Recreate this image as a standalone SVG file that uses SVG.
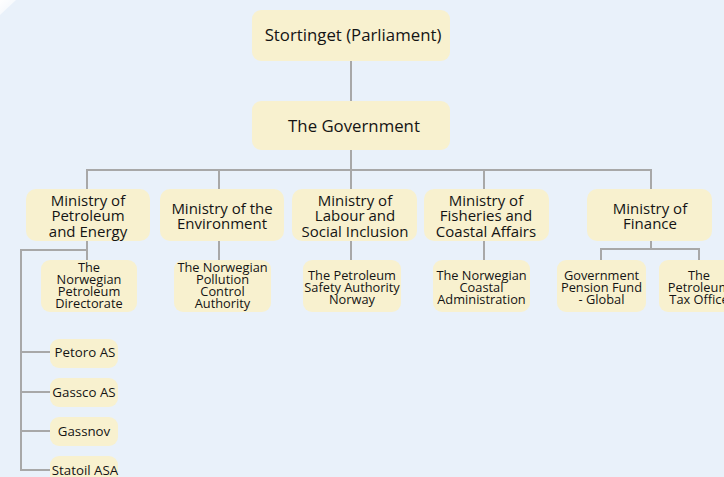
<svg xmlns="http://www.w3.org/2000/svg" width="724" height="477" viewBox="0 0 724 477">
  <defs>
    <linearGradient id="cornerGlow" x1="0" y1="0" x2="1" y2="1">
      <stop offset="0" stop-color="#ffffff" stop-opacity="1"/>
      <stop offset="1" stop-color="#ffffff" stop-opacity="0.3"/>
    </linearGradient>
    <style>
      .box { fill: #f8f1cf; }
      .link { fill: none; stroke: #a8a8a8; stroke-width: 2; }
      text { font-family: "Open Sans", "Noto Sans", "DejaVu Sans", sans-serif; fill: #141414; text-anchor: middle; }
      .top { font-size: 16.8px; }
      .min { font-size: 15px; }
      .sub { font-size: 12.8px; }
      .co { font-size: 13.3px; }
    </style>
  </defs>

  <!-- background -->
  <rect x="0" y="0" width="724" height="477" fill="#e9f1fa"/>
  <polygon points="0,0 16,0 0,15" fill="url(#cornerGlow)"/>

  <!-- connectors -->
  <g id="connectors">
    <path class="link" d="M351,61 V101"/>
    <path class="link" d="M351,150 V170"/>
    <path class="link" d="M87,189 V170 H651 V189"/>
    <path class="link" d="M219,170 V189"/>
    <path class="link" d="M351,170 V189"/>
    <path class="link" d="M484,170 V189"/>
    <path class="link" d="M87,241 V260"/>
    <path class="link" d="M87,250 H21 V470 H50"/>
    <path class="link" d="M21,352 H50"/>
    <path class="link" d="M21,392 H50"/>
    <path class="link" d="M21,431 H50"/>
    <path class="link" d="M219,241 V260"/>
    <path class="link" d="M351,241 V260"/>
    <path class="link" d="M484,241 V260"/>
    <path class="link" d="M651,241 V249"/>
    <path class="link" d="M601,260 V249 H699 V260"/>
  </g>

  <!-- top level -->
  <g id="stortinget">
    <rect class="box" x="252" y="10" width="198" height="51" rx="9"/>
    <text class="top" x="353" y="41">Stortinget (Parliament)</text>
  </g>
  <g id="government">
    <rect class="box" x="252" y="101" width="198" height="49" rx="9"/>
    <text class="top" x="354" y="132">The Government</text>
  </g>

  <!-- ministries -->
  <g id="ministry-petroleum">
    <rect class="box" x="26" y="189" width="124" height="52" rx="10"/>
    <text class="min" x="88" y="205.5">Ministry of</text>
    <text class="min" x="88" y="221">Petroleum</text>
    <text class="min" x="88" y="236.5">and Energy</text>
  </g>
  <g id="ministry-environment">
    <rect class="box" x="160" y="189" width="124" height="52" rx="10"/>
    <text class="min" x="222" y="213.5">Ministry of the</text>
    <text class="min" x="222" y="229">Environment</text>
  </g>
  <g id="ministry-labour">
    <rect class="box" x="292" y="189" width="125" height="52" rx="10"/>
    <text class="min" x="355" y="205.5">Ministry of</text>
    <text class="min" x="355" y="221">Labour and</text>
    <text class="min" x="355" y="236.5">Social Inclusion</text>
  </g>
  <g id="ministry-fisheries">
    <rect class="box" x="424" y="189" width="125" height="52" rx="10"/>
    <text class="min" x="486" y="205.5">Ministry of</text>
    <text class="min" x="486" y="221">Fisheries and</text>
    <text class="min" x="486" y="236.5">Coastal Affairs</text>
  </g>
  <g id="ministry-finance">
    <rect class="box" x="587" y="189" width="125" height="52" rx="10"/>
    <text class="min" x="650" y="213.5">Ministry of</text>
    <text class="min" x="650" y="229">Finance</text>
  </g>

  <!-- agencies -->
  <g id="petroleum-directorate">
    <rect class="box" x="41" y="260" width="96" height="52" rx="9"/>
    <text class="sub" x="89" y="271.5">The</text>
    <text class="sub" x="89" y="283.5">Norwegian</text>
    <text class="sub" x="89" y="295.5">Petroleum</text>
    <text class="sub" x="89" y="307.5">Directorate</text>
  </g>
  <g id="pollution-control">
    <rect class="box" x="174" y="260" width="97" height="52" rx="9"/>
    <text class="sub" x="222.5" y="271.5">The Norwegian</text>
    <text class="sub" x="222.5" y="283.5">Pollution</text>
    <text class="sub" x="222.5" y="295.5">Control</text>
    <text class="sub" x="222.5" y="307.5">Authority</text>
  </g>
  <g id="petroleum-safety">
    <rect class="box" x="303" y="260" width="98" height="52" rx="9"/>
    <text class="sub" x="352" y="279.5">The Petroleum</text>
    <text class="sub" x="352" y="291.5">Safety Authority</text>
    <text class="sub" x="352" y="303.5">Norway</text>
  </g>
  <g id="coastal-administration">
    <rect class="box" x="433" y="260" width="97" height="52" rx="9"/>
    <text class="sub" x="481.5" y="279.5">The Norwegian</text>
    <text class="sub" x="481.5" y="291.5">Coastal</text>
    <text class="sub" x="481.5" y="303.5">Administration</text>
  </g>
  <g id="pension-fund">
    <rect class="box" x="557" y="260" width="89" height="52" rx="9"/>
    <text class="sub" x="601.5" y="279.5">Government</text>
    <text class="sub" x="601.5" y="291.5">Pension Fund</text>
    <text class="sub" x="601.5" y="303.5">- Global</text>
  </g>
  <g id="tax-office">
    <rect class="box" x="659" y="260" width="80" height="52" rx="9"/>
    <text class="sub" x="699" y="279.5">The</text>
    <text class="sub" x="699" y="291.5">Petroleum</text>
    <text class="sub" x="699" y="303.5">Tax Office</text>
  </g>

  <!-- state-owned companies -->
  <g id="petoro">
    <rect class="box" x="50" y="339" width="68" height="29" rx="9"/>
    <text class="co" x="85" y="357">Petoro AS</text>
  </g>
  <g id="gassco">
    <rect class="box" x="50" y="378" width="68" height="29" rx="9"/>
    <text class="co" x="84" y="397">Gassco AS</text>
  </g>
  <g id="gassnov">
    <rect class="box" x="50" y="417" width="68" height="29" rx="9"/>
    <text class="co" x="84" y="436">Gassnov</text>
  </g>
  <g id="statoil">
    <rect class="box" x="50" y="456" width="68" height="29" rx="9"/>
    <text class="co" x="85" y="475">Statoil ASA</text>
  </g>
</svg>
